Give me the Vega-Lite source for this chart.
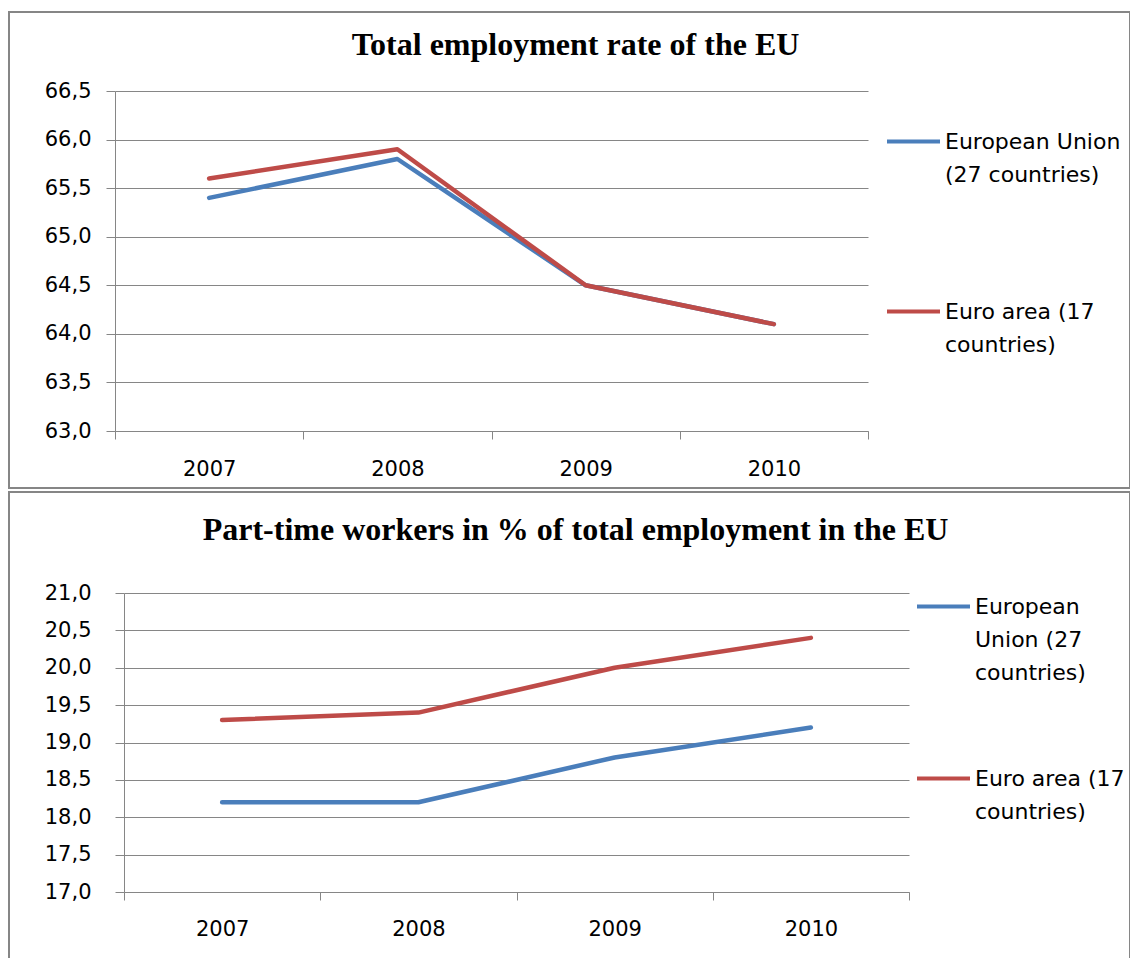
{
  "$schema": "https://vega.github.io/schema/vega-lite/v6.json",
  "padding": {"left": 8, "top": 11, "right": 0, "bottom": 0},
  "background": "white",
  "spacing": 2,
  "resolve": {"scale": {"color": "independent"}, "legend": {"color": "independent"}},
  "config": {
    "view": {"stroke": "#868686", "strokeWidth": 2},
    "font": "DejaVu Sans",
    "title": {"font": "Liberation Serif", "fontWeight": "bold", "fontSize": 32, "color": "#000000", "anchor": "middle"},
    "axis": {"labelFont": "DejaVu Sans", "labelFontSize": 21, "labelColor": "#000000", "domainColor": "#868686", "tickColor": "#868686", "gridColor": "#868686", "gridOpacity": 1, "domainWidth": 1, "tickWidth": 1, "gridWidth": 1},
    "legend": {"title": null, "labelFont": "DejaVu Sans", "labelFontSize": 22, "labelColor": "#000000", "labelLimit": 400, "symbolType": "stroke", "symbolSize": 2809, "symbolStrokeWidth": 4, "labelOffset": 3, "labelBaseline": "alphabetic"}
  },
  "vconcat": [
    {
      "width": 1121,
      "height": 476,
      "title": {"text": "Total employment rate of the EU", "offset": -50, "dx": 6},
      "data": {"values": [
        {"year": "2007", "series": "European Union (27 countries)", "value": 65.4},
        {"year": "2008", "series": "European Union (27 countries)", "value": 65.8},
        {"year": "2009", "series": "European Union (27 countries)", "value": 64.5},
        {"year": "2010", "series": "European Union (27 countries)", "value": 64.1},
        {"year": "2007", "series": "Euro area (17 countries)", "value": 65.6},
        {"year": "2008", "series": "Euro area (17 countries)", "value": 65.9},
        {"year": "2009", "series": "Euro area (17 countries)", "value": 64.5},
        {"year": "2010", "series": "Euro area (17 countries)", "value": 64.1}
      ]},
      "mark": {"type": "line", "strokeWidth": 4.5, "strokeCap": "round", "strokeJoin": "round"},
      "encoding": {
        "x": {"field": "year", "type": "ordinal", "scale": {"type": "band", "range": [106, 859], "paddingInner": 0, "paddingOuter": 0},
              "axis": {"orient": "bottom", "offset": -57, "labelAngle": 0, "tickBand": "extent", "tickSize": 8, "labelPadding": 19, "grid": false, "title": null}},
        "y": {"field": "value", "type": "quantitative", "scale": {"domain": [63, 66.5], "range": [419, 79], "nice": false, "zero": false},
              "axis": {"orient": "left", "offset": -106, "values": [63, 63.5, 64, 64.5, 65, 65.5, 66, 66.5], "labelExpr": "replace(format(datum.value, '.1f'), '.', ',')", "tickSize": 9, "labelPadding": 15, "grid": true, "title": null}},
        "color": {"field": "series", "type": "nominal",
                  "scale": {"domain": ["European Union (27 countries)", "Euro area (17 countries)"], "range": ["#4A7EBB", "#BE4B48"]},
                  "legend": {"orient": "none", "legendX": 876, "legendY": 101, "rowPadding": 97,
                             "labelExpr": "datum.label == 'European Union (27 countries)' ? ['European Union', '(27 countries)'] : ['Euro area (17', 'countries)']",
                             "encode": {"labels": {"update": {"lineHeight": {"value": 33}, "dy": {"value": 7}}}}}}
      }
    },
    {
      "width": 1121,
      "height": 468,
      "title": {"text": "Part-time workers in % of total employment in the EU", "offset": -55, "dx": 6},
      "data": {"values": [
        {"year": "2007", "series": "European Union (27 countries)", "value": 18.2},
        {"year": "2008", "series": "European Union (27 countries)", "value": 18.2},
        {"year": "2009", "series": "European Union (27 countries)", "value": 18.8},
        {"year": "2010", "series": "European Union (27 countries)", "value": 19.2},
        {"year": "2007", "series": "Euro area (17 countries)", "value": 19.3},
        {"year": "2008", "series": "Euro area (17 countries)", "value": 19.4},
        {"year": "2009", "series": "Euro area (17 countries)", "value": 20.0},
        {"year": "2010", "series": "Euro area (17 countries)", "value": 20.4}
      ]},
      "mark": {"type": "line", "strokeWidth": 4.5, "strokeCap": "round", "strokeJoin": "round"},
      "encoding": {
        "x": {"field": "year", "type": "ordinal", "scale": {"type": "band", "range": [115, 900], "paddingInner": 0, "paddingOuter": 0},
              "axis": {"orient": "bottom", "offset": -68, "labelAngle": 0, "tickBand": "extent", "tickSize": 8, "labelPadding": 18, "grid": false, "title": null}},
        "y": {"field": "value", "type": "quantitative", "scale": {"domain": [17, 21], "range": [400, 101], "nice": false, "zero": false},
              "axis": {"orient": "left", "offset": -115, "values": [17, 17.5, 18, 18.5, 19, 19.5, 20, 20.5, 21], "labelExpr": "replace(format(datum.value, '.1f'), '.', ',')", "tickSize": 9, "labelPadding": 24, "grid": true, "title": null}},
        "color": {"field": "series", "type": "nominal",
                  "scale": {"domain": ["European Union (27 countries)", "Euro area (17 countries)"], "range": ["#4A7EBB", "#BE4B48"]},
                  "legend": {"orient": "none", "legendX": 906, "legendY": 86, "rowPadding": 66,
                             "labelExpr": "datum.label == 'European Union (27 countries)' ? ['European', 'Union (27', 'countries)'] : ['Euro area (17', 'countries)']",
                             "encode": {"labels": {"update": {"lineHeight": {"value": 33}, "dy": {"value": 7}}}}}}
      }
    }
  ]
}
